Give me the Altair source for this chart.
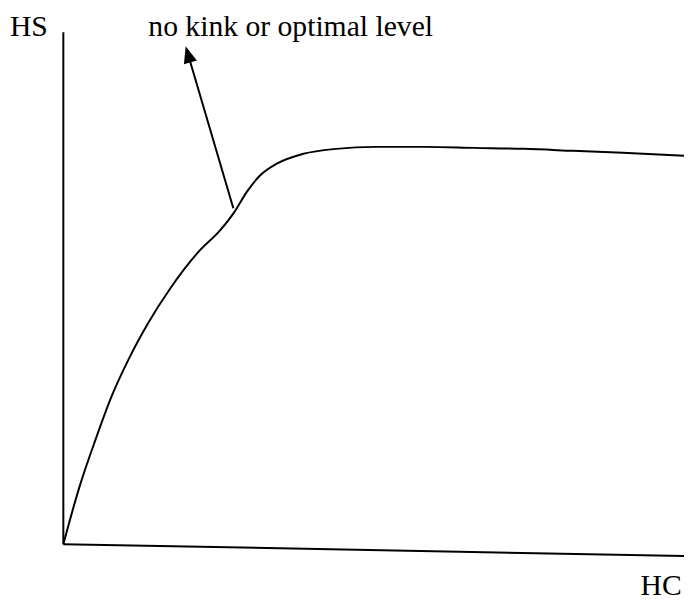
import altair as alt
import pandas as pd

# Data space: HC (x) and HS (y), origin at the axes corner
curve_hc = [0, 16, 33, 49, 66, 86, 109, 136, 159, 173, 186, 199, 216, 243, 276, 316, 366, 416, 466, 516, 566, 628]
curve_hs = [0, 57, 107, 150, 187, 224, 260, 295, 318, 336, 357, 373, 385, 395, 400, 402, 402, 401, 400, 398, 396, 393]

yaxis_hc = [0, 0]
yaxis_hs = [0, 518]
xaxis_hc = [0, 628]
xaxis_hs = [0, -12]

arrow_hc = [172, 126.5]
arrow_hs = [340, 494.5]
arrow_tip_angle = 343.6

labels = ["HS", "no kink or optimal level", "HC"]
label_hc = [-54, 86, 584]
label_hs = [514, 514, -51]

X = alt.Scale(domain=[-56, 628], nice=False, zero=False)
Y = alt.Scale(domain=[-57, 539], nice=False, zero=False)

def xe(f="x"):
    return alt.X(f"{f}:Q", scale=X, axis=None)

def ye(f="y"):
    return alt.Y(f"{f}:Q", scale=Y, axis=None)

curve_df = pd.DataFrame({"x": curve_hc, "y": curve_hs, "o": range(len(curve_hc))})
curve = alt.Chart(curve_df).mark_line(color="black", strokeWidth=2, interpolate="monotone").encode(
    x=xe(), y=ye(), order="o:Q")

yax = alt.Chart(pd.DataFrame({"x": yaxis_hc, "y": yaxis_hs})).mark_line(color="black", strokeWidth=2).encode(x=xe(), y=ye())
xax = alt.Chart(pd.DataFrame({"x": xaxis_hc, "y": xaxis_hs})).mark_line(color="black", strokeWidth=2).encode(x=xe(), y=ye())

shaft = alt.Chart(pd.DataFrame({"x": arrow_hc, "y": arrow_hs})).mark_line(color="black", strokeWidth=2).encode(x=xe(), y=ye())
head = alt.Chart(pd.DataFrame({"x": [arrow_hc[1]], "y": [arrow_hs[1]]})).mark_point(
    shape="M0,-1L0.7,0.75L-0.7,0.75Z", filled=True, color="black", opacity=1, size=380,
    angle=arrow_tip_angle, strokeWidth=0).encode(x=xe(), y=ye())

text_df = pd.DataFrame({"t": labels, "x": label_hc, "y": label_hs})
text = alt.Chart(text_df).mark_text(font="Liberation Serif", fontSize=30, align="left",
                                    baseline="alphabetic", color="black").encode(
    x=xe(), y=ye(), text="t:N")

chart = alt.layer(yax, xax, curve, shaft, head, text).properties(
    width=684, height=596, padding=0, autosize=alt.AutoSizeParams(type="none")
).configure_view(stroke=None)

chart.save("out.html", embed_options={"renderer": "svg", "actions": False})
